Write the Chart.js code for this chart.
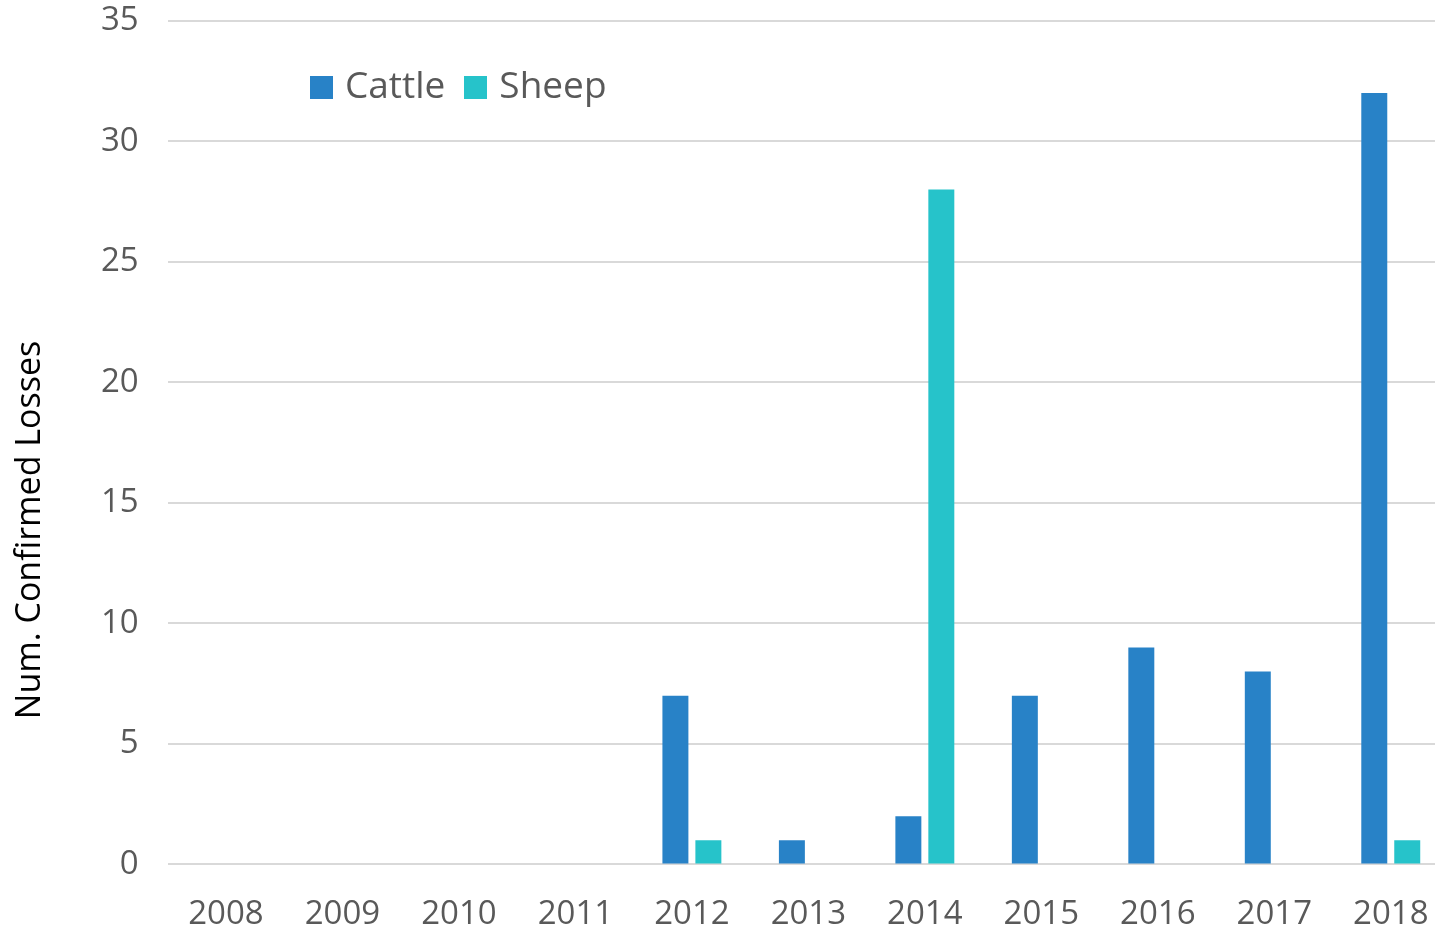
<!DOCTYPE html>
<html>
<head>
<meta charset="utf-8">
<script src="https://cdn.jsdelivr.net/npm/chart.js@4.4.0/dist/chart.umd.min.js"></script>
<style>
  html, body { margin: 0; padding: 0; background: #fff; overflow: hidden; }
  #wrap { position: absolute; left: 0; top: -28px; width: 1452px; height: 984px; }
  #legend { position: absolute; left: 310px; top: 58px; font-family: "Open Sans", sans-serif; font-size: 37px; color: #595959; white-space: nowrap; }
  #legend span.item { margin-right: 19px; }
  #legend span.box { display: inline-block; width: 23px; height: 23px; margin-right: 12px; vertical-align: -1px; }
</style>
</head>
<body>
<div id="wrap"><canvas id="lossChart"></canvas></div>
<div id="legend"></div>
<script>
// Confirmed livestock losses per year
var years = ["2008", "2009", "2010", "2011", "2012", "2013", "2014", "2015", "2016", "2017", "2018"];
var cattle = [0, 0, 0, 0, 7, 1, 2, 7, 9, 8, 32];
var sheep = [0, 0, 0, 0, 1, 0, 28, 0, 0, 0, 1];
var seriesNames = ["Cattle", "Sheep"];
var seriesColors = ["#2882C7", "#26C3CA"];
var yTitle = "Num. Confirmed Losses";

var fontFam = '"Open Sans", sans-serif';

var dataLoss = {
    labels: years,
    datasets: [
        {
            label: seriesNames[0],
            data: cattle,
            backgroundColor: seriesColors[0],
            categoryPercentage: 0.566,
            barPercentage: 0.788
        },
        {
            label: seriesNames[1],
            data: sheep,
            backgroundColor: seriesColors[1],
            categoryPercentage: 0.566,
            barPercentage: 0.788
        }
    ]
};

// y title sits lower than the axis middle in the original, so draw it here
var yTitlePlugin = {
    id: 'yTitle',
    afterDraw: function(chart) {
        var c = chart.ctx;
        c.save();
        c.translate(30, 558);
        c.rotate(-Math.PI / 2);
        c.textAlign = 'center';
        c.textBaseline = 'middle';
        c.fillStyle = '#000';
        c.font = '34px ' + fontFam;
        c.fillText(yTitle, 0, 0);
        c.restore();
    }
};

var optLoss = {
    responsive: true,
    maintainAspectRatio: false,
    animation: false,
    layout: { padding: { top: 0, right: 3, left: 72, bottom: 0 } },
    plugins: {
        legend: { display: false },
        tooltip: { enabled: false }
    },
    scales: {
        x: {
            grid: { display: false },
            border: { display: false },
            ticks: { color: "#595959", font: { family: fontFam, size: 33 }, padding: 22, maxRotation: 0 }
        },
        y: {
            min: 0,
            max: 35,
            ticks: { stepSize: 5, color: "#595959", font: { family: fontFam, size: 33 }, padding: 29 },
            grid: { color: "#d9d9d9", lineWidth: 2, drawTicks: false },
            border: { display: false }
        }
    }
};

(function(){
    var legendEl = document.getElementById("legend");
    seriesNames.forEach(function(name, i){
        var item = document.createElement("span");
        item.className = "item";
        var box = document.createElement("span");
        box.className = "box";
        box.style.background = seriesColors[i];
        item.appendChild(box);
        item.appendChild(document.createTextNode(name));
        legendEl.appendChild(item);
    });

    var ctx = document.getElementById("lossChart").getContext("2d");
    var lossChart = new Chart(ctx, {
        type: 'bar',
        data: dataLoss,
        options: optLoss,
        plugins: [yTitlePlugin]
    });
})();
</script>
</body>
</html>
